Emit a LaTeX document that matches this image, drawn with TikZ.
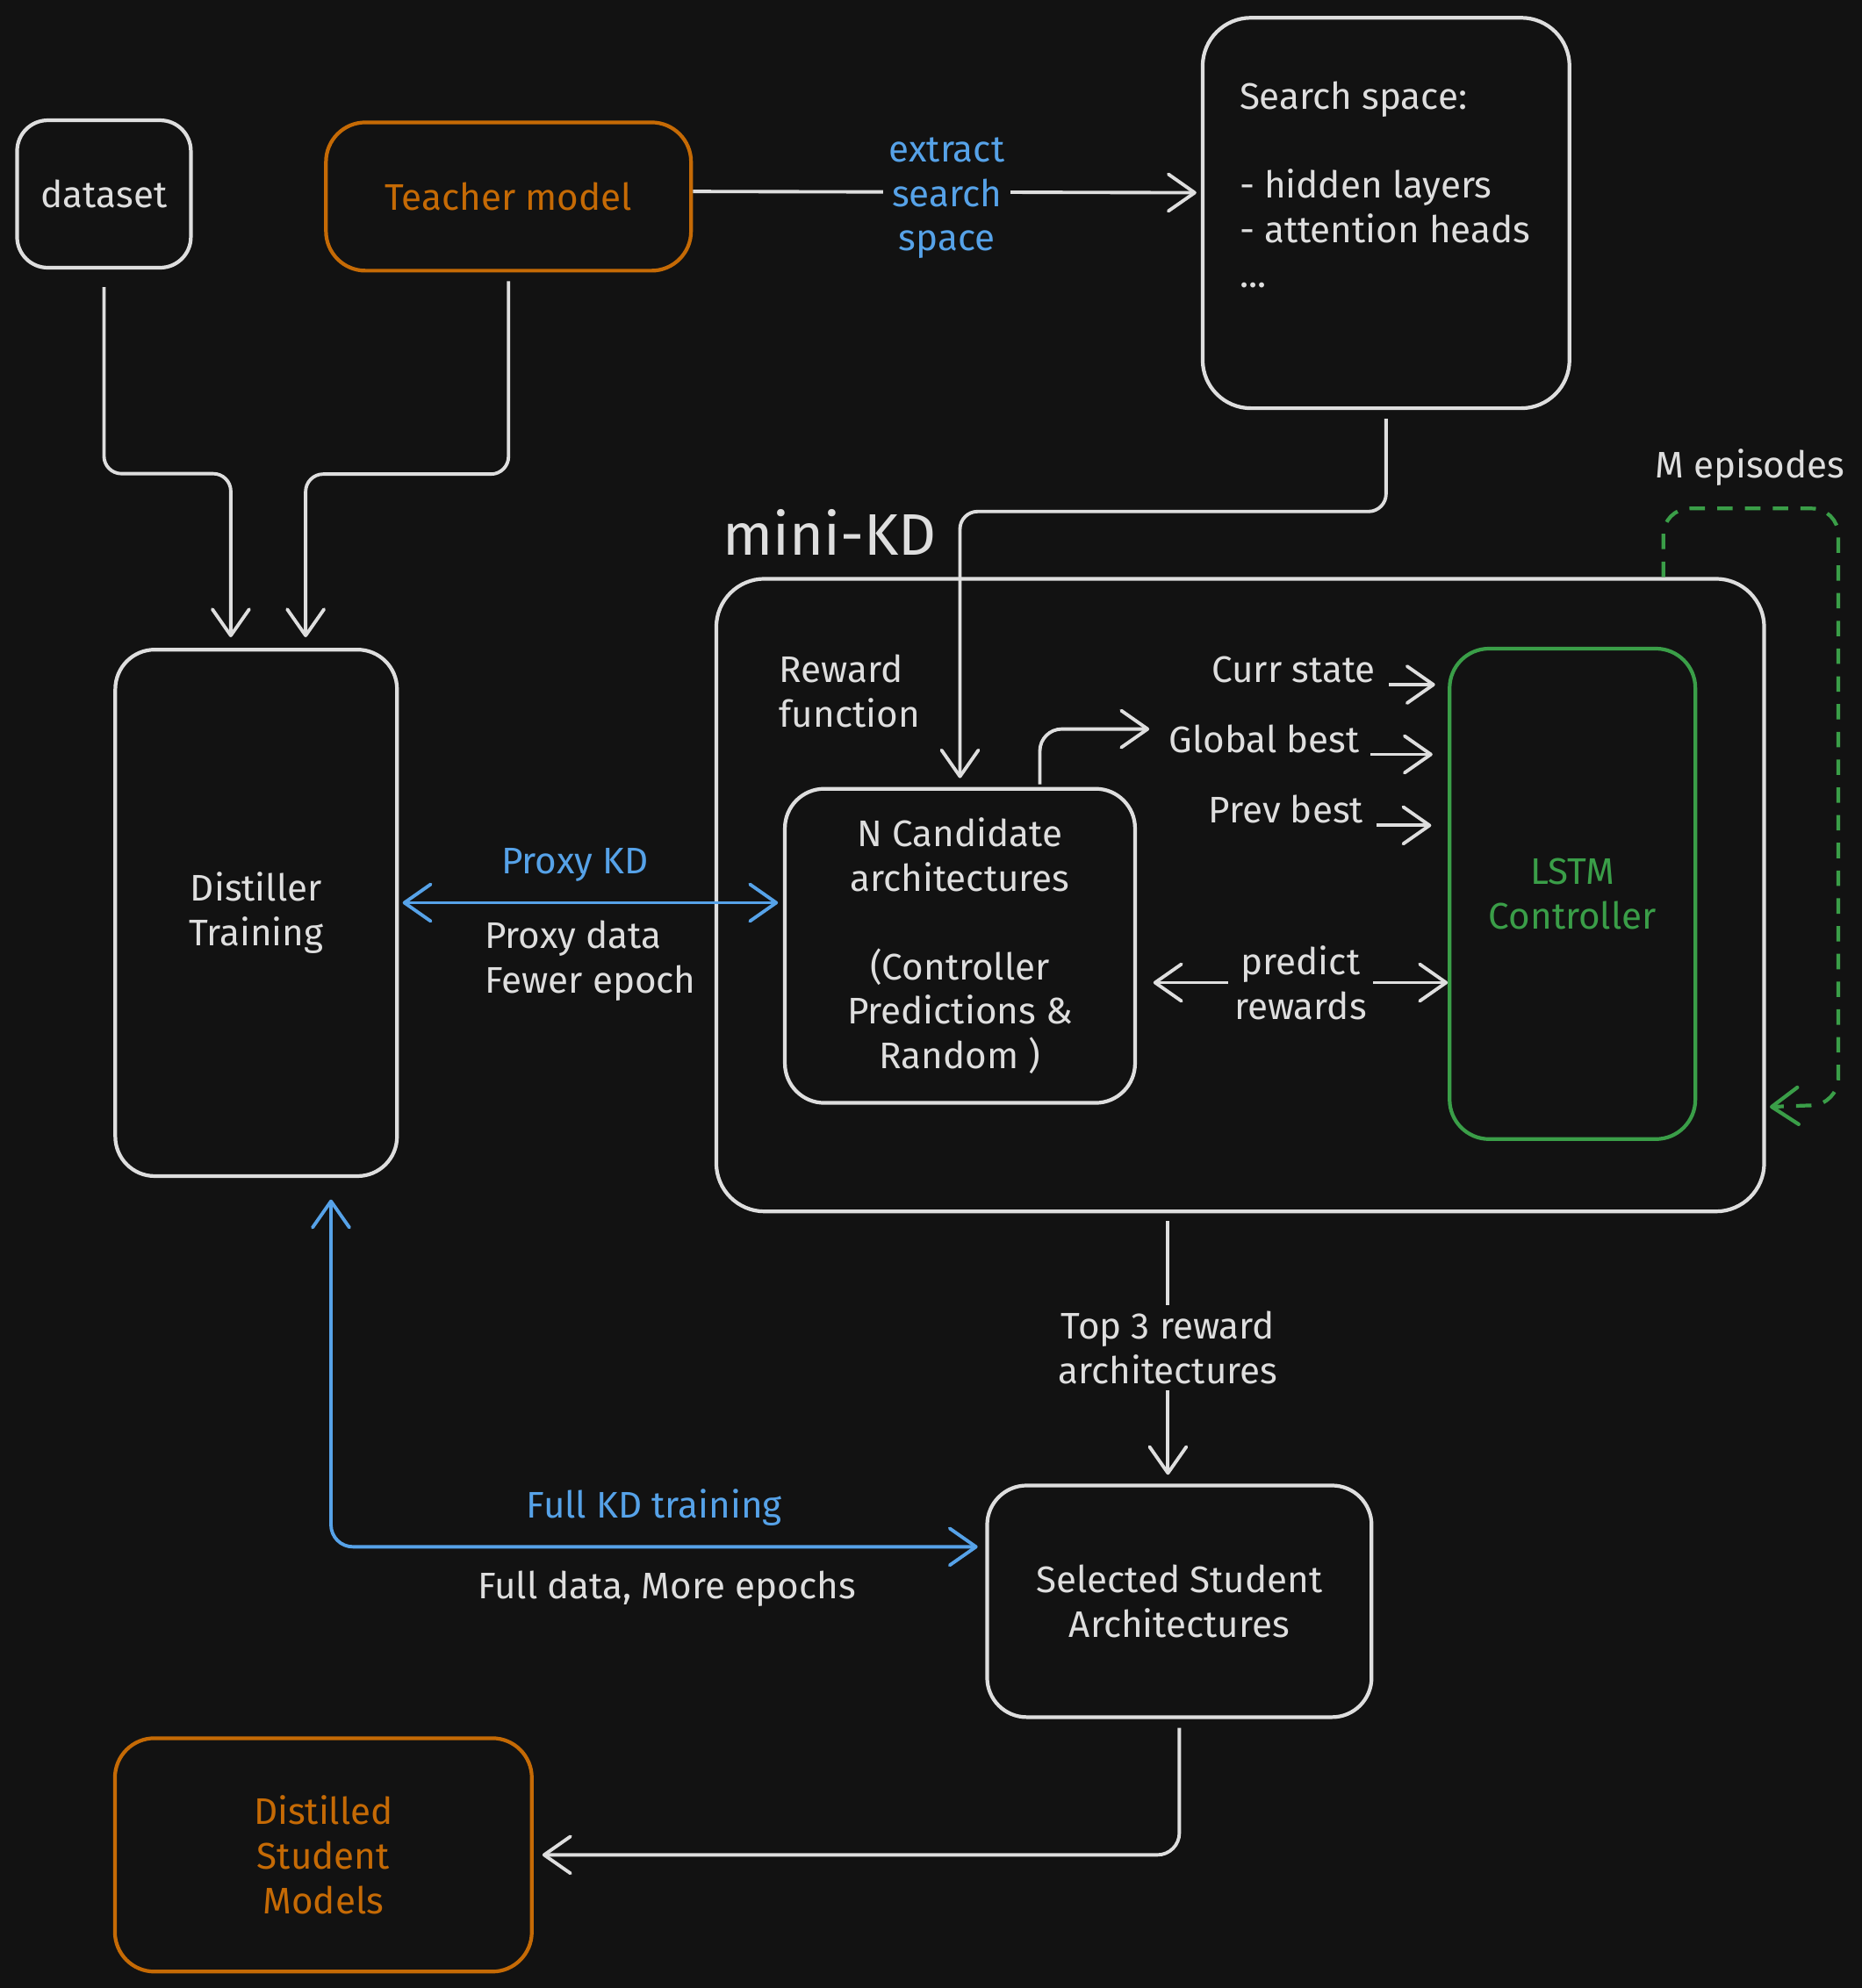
\documentclass[tikz,border=0pt]{standalone}
\usepackage{fontspec}
\setmainfont{Fira Sans}
\usetikzlibrary{arrows.meta,calc,positioning}
\definecolor{bg}{HTML}{121212}
\definecolor{fg}{HTML}{DEDEDE}
\definecolor{orng}{HTML}{C56A05}
\definecolor{blu}{HTML}{56A2E8}
\definecolor{grn}{HTML}{3A9E48}
\tikzset{
  box/.style={draw=fg, line width=1.2pt, rounded corners=0.45cm, align=center, text=fg},
  txt/.style={text=fg, align=center},
  lbl/.style={fill=bg, align=center, inner sep=2pt},
  arr/.style={color=fg, line width=1.1pt, -{Straight Barb[length=3mm,width=4.2mm,round]}},
  arrboth/.style={color=fg, line width=1.1pt, {Straight Barb[length=3mm,width=4.2mm,round]}-{Straight Barb[length=3mm,width=4.2mm,round]}},
  barrboth/.style={color=blu, line width=1.1pt, {Straight Barb[length=3mm,width=4.2mm,round]}-{Straight Barb[length=3mm,width=4.2mm,round]}}
}
\begin{document}
\begin{tikzpicture}[x=0.01445cm, y=-0.01445cm, font=\fontsize{12}{14.4}\selectfont]
  \path[fill=bg, use as bounding box] (0,0) rectangle (1468,1568);

  \node[box, minimum width=1.98cm, minimum height=1.68cm, rounded corners=0.35cm] (dataset) at (82,153) {dataset};
  \node[box, draw=orng, text=orng, minimum width=4.16cm, minimum height=1.69cm] (teacher) at (401,155) {Teacher model};
  \node[box, minimum width=4.18cm, minimum height=4.45cm, rounded corners=0.55cm] (search) at (1093,168) {};
  \node[txt, anchor=north west, align=left, inner sep=0] (sstext) at (977,64) {Search space:\\\mbox{}\\- hidden layers\\- attention heads\\...};
  \node[box, minimum width=3.21cm, minimum height=6.0cm] (dist) at (202,720) {Distiller\\Training};
  \node[box, minimum width=11.94cm, minimum height=7.21cm, rounded corners=0.55cm] (minikd) at (978,706) {};
  \node[txt, font=\fontsize{19}{22}\selectfont, anchor=base west, inner sep=0] (minititle) at ($(minikd.north west)+(6,-17)$) {mini-KD};
  \node[box, minimum width=3.99cm, minimum height=3.58cm] (cand) at (757,746) {N Candidate\\architectures\\\mbox{}\\(Controller\\Predictions \&\\Random )};
  \node[box, draw=grn, text=grn, minimum width=2.80cm, minimum height=5.59cm] (lstm) at (1240,705) {LSTM\\Controller};
  \node[box, minimum width=4.38cm, minimum height=2.64cm] (sel) at (930,1263) {Selected Student\\Architectures};
  \node[box, draw=orng, text=orng, minimum width=4.75cm, minimum height=2.66cm] (distilled) at (255,1463) {Distilled\\Student\\Models};

  \node[txt, align=left] (reward) at (670,545) {Reward\\function};
  \node[txt] (curr) at (1020,528) {Curr state};
  \node[txt] (gbest) at (997,583) {Global best};
  \node[txt] (pbest) at (1014,638) {Prev best};
  \node[txt] (mep) at (1380,369) {M episodes};

  \draw[arr, rounded corners=0.2cm, shorten <=0.2cm, shorten >=0.12cm] (dataset.south) -- ++(0,161) -| ($(dist.north)+(-20,0)$);
  \draw[arr, rounded corners=0.2cm, shorten <=0.1cm, shorten >=0.12cm] (teacher.south) -- ++(0,159) -| ($(dist.north)+(39,0)$);
  \draw[arr, shorten >=0.05cm] ($(teacher.east)+(0,-4)$) -- node[lbl, text=blu, yshift=-2pt] {extract\\search\\space} ($(teacher.east -| search.west)+(0,-3)$);
  \draw[arr, rounded corners=0.2cm, shorten <=0.1cm, shorten >=0.1cm] (search.south) -- ++(0,80) -| (cand.north);
  \draw[arr, rounded corners=0.25cm, shorten <=0.03cm] ($(cand.north)+(63,0)$) |- ($(gbest.west)+(-7,-8)$);
  \draw[arr] ($(curr.east)+(2,12)$) -- ($(curr.east -| lstm.west)+(-10,12)$);
  \draw[arr] ($(gbest.east)+(0,12)$) -- ($(gbest.east -| lstm.west)+(-12,12)$);
  \draw[arr] ($(pbest.east)+(2,13)$) -- ($(pbest.east -| lstm.west)+(-13,13)$);
  \draw[arrboth] ($(cand.east)+(13,29)$) -- node[lbl] {predict\\rewards} ($(cand.east -| lstm.west)+(0,29)$);
  \draw[grn, dash pattern=on 5pt off 4pt, line width=1.2pt, rounded corners=0.3cm, -{Straight Barb[length=3mm,width=4.2mm,round]}] ($(minikd.north east)+(-81,0)$) -- ++(0,-54) -| ++(138,470) -- ($(minikd.east)+(3,167)$);
  \draw[barrboth] ($(dist.east)+(3,-8)$) -- node[above, text=blu, yshift=3pt, xshift=-5pt] {Proxy KD} node[below, align=left, text=fg, yshift=-2pt] {Proxy data\\Fewer epoch} ($(dist.east -| cand.west)+(-4,-8)$);
  \draw[arr] ($(minikd.south -| sel.north)+(-9,6)$) -- node[lbl] {Top 3 reward\\architectures} ($(sel.north)+(-9,-7)$);
  \draw[barrboth, rounded corners=0.25cm] ($(dist.south)+(59,17)$) |- node[pos=0.75, above, text=blu, yshift=3pt] {Full KD training} node[pos=0.75, below, text=fg, yshift=-4pt, xshift=4pt] {Full data, More epochs} ($(sel.west)+(-6,-43)$);
  \draw[arr, rounded corners=0.25cm, shorten <=0.1cm, shorten >=0.1cm] (sel.south) |- (distilled.east);
\end{tikzpicture}
\end{document}
